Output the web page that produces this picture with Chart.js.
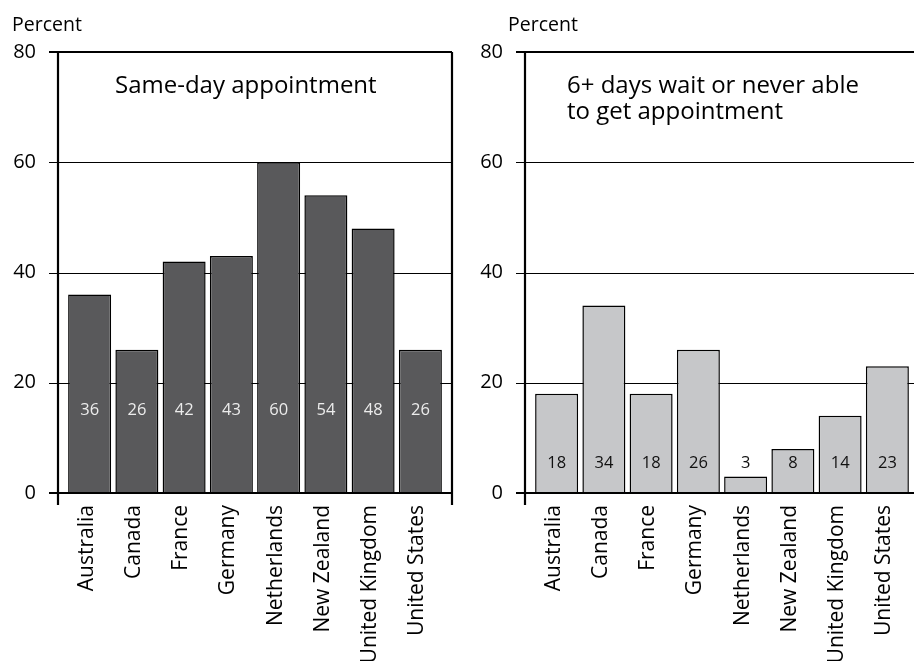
<!DOCTYPE html>
<html>
<head>
<meta charset="utf-8">
<script src="https://cdn.jsdelivr.net/npm/chart.js@4/dist/chart.umd.min.js"></script>
<style>
  html, body { margin: 0; padding: 0; background: #fff; }
  #wrap { position: relative; width: 914px; height: 661px; overflow: hidden; }
  canvas { position: absolute; top: 0; }
  #sameDay { left: 0; }
  #longWait { left: 457px; }
</style>
</head>
<body>
<div id="wrap">
  <canvas id="sameDay" width="457" height="661"></canvas>
  <canvas id="longWait" width="457" height="661"></canvas>
</div>
<script>
const countries = [
    "Australia", "Canada", "France", "Germany",
    "Netherlands", "New Zealand", "United Kingdom", "United States",
];
const sameDay = [36, 26, 42, 43, 60, 54, 48, 26];
const longWait = [18, 34, 18, 26, 3, 8, 14, 23];
const yTicks = [0, 20, 40, 60, 80];

const FONT = "'Open Sans', 'Noto Sans', sans-serif";

// frame, gridlines and in-bar labels drawn on top of the chart area
function panelPlugin(cfg) {
    return {
        id: "panel",
        beforeDatasetsDraw(chart) {
            const { ctx, chartArea, scales } = chart;
            const left = chartArea.left - 8;
            const right = chartArea.right + 8;
            ctx.save();
            ctx.strokeStyle = "#000";
            ctx.lineWidth = 1.2;
            yTicks.slice(1, -1).forEach((v) => {
                const y = Math.round(scales.y.getPixelForValue(v)) + 0.5;
                ctx.beginPath();
                ctx.moveTo(left - 9, y);
                ctx.lineTo(right, y);
                ctx.stroke();
            });
            ctx.restore();
        },
        afterDatasetsDraw(chart) {
            const { ctx, chartArea, scales } = chart;
            const left = chartArea.left - 8;
            const right = chartArea.right + 8;
            const top = scales.y.getPixelForValue(80);
            const bottom = scales.y.getPixelForValue(0);
            ctx.save();
            ctx.strokeStyle = "#000";
            ctx.lineWidth = 2.2;
            ctx.beginPath();
            ctx.moveTo(left - 9, top);
            ctx.lineTo(right, top);
            ctx.moveTo(left - 9, bottom);
            ctx.lineTo(right, bottom);
            ctx.moveTo(left, top);
            ctx.lineTo(left, bottom + 12);
            ctx.moveTo(right, top);
            ctx.lineTo(right, bottom + 12);
            ctx.stroke();

            // values inside the bars
            const meta = chart.getDatasetMeta(0);
            ctx.font = "16.5px " + FONT;
            ctx.fillStyle = cfg.valueColor;
            ctx.textAlign = "center";
            ctx.textBaseline = "middle";
            const y = scales.y.getPixelForValue(cfg.valueAt);
            meta.data.forEach((bar, i) => {
                ctx.fillText(String(cfg.values[i]), bar.x, y);
            });

            // axis unit and panel title
            ctx.fillStyle = "#000";
            ctx.textAlign = "left";
            ctx.textBaseline = "alphabetic";
            ctx.font = "19.5px " + FONT;
            ctx.fillText("Percent", cfg.unitX, 31);
            ctx.font = "24px " + FONT;
            cfg.title.forEach((line, i) => {
                ctx.fillText(line, cfg.titleX, 93 + i * 26);
            });
            ctx.restore();
        },
    };
}

function makePanel(canvasId, cfg) {
    return new Chart(document.getElementById(canvasId), {
        type: "bar",
        data: {
            labels: countries,
            datasets: [
                {
                    data: cfg.values,
                    backgroundColor: cfg.color,
                    borderColor: "#000",
                    borderWidth: 1.5,
                    barPercentage: 0.91,
                    categoryPercentage: 1,
                },
            ],
        },
        options: {
            responsive: false,
            animation: false,
            layout: {
                padding: { top: 52, right: cfg.padRight, bottom: 0, left: 0 },
            },
            plugins: {
                legend: { display: false },
                tooltip: { enabled: false },
            },
            scales: {
                x: {
                    grid: { display: false, drawTicks: false },
                    border: { display: false },
                    ticks: {
                        color: "#000",
                        font: { family: FONT, size: 21 },
                        minRotation: 90,
                        maxRotation: 90,
                        autoSkip: false,
                        padding: 12,
                        labelOffset: -3,
                    },
                    afterFit(scale) {
                        // keep the plot width fixed; rotated labels need no side room
                        scale.height = 168;
                        scale.paddingLeft = 0;
                        scale.paddingRight = 0;
                    },
                },
                y: {
                    min: 0,
                    max: 80,
                    grid: { display: false, drawTicks: false },
                    border: { display: false },
                    ticks: {
                        stepSize: 20,
                        color: "#000",
                        font: { family: FONT, size: 20 },
                        padding: 30,
                    },
                    afterFit(scale) {
                        scale.width = cfg.axisWidth;
                        scale.paddingTop = 0;
                        scale.paddingBottom = 0;
                    },
                },
            },
        },
        plugins: [panelPlugin(cfg)],
    });
}

makePanel("sameDay", {
    values: sameDay,
    color: "#59595b",
    valueColor: "#ececec",
    valueAt: 15,
    axisWidth: 66,
    padRight: 13,
    unitX: 12,
    titleX: 115,
    title: ["Same-day appointment"],
});

makePanel("longWait", {
    values: longWait,
    color: "#c6c7c9",
    valueColor: "#111",
    valueAt: 5.4,
    axisWidth: 76,
    padRight: 3,
    unitX: 51,
    titleX: 110,
    title: ["6+ days wait or never able", "to get appointment"],
});
</script>
</body>
</html>
